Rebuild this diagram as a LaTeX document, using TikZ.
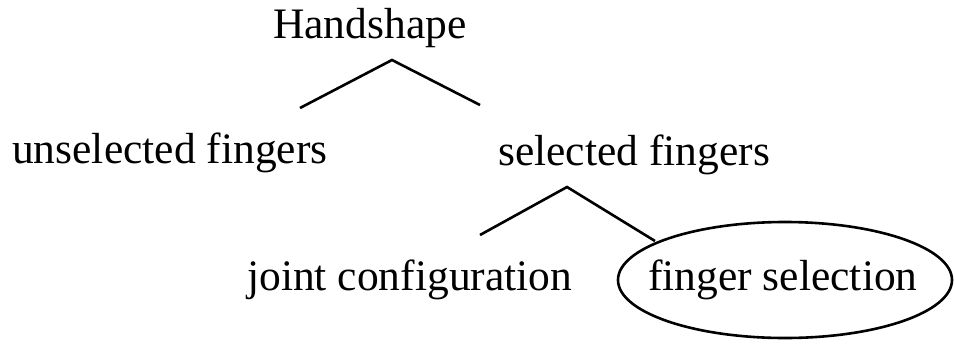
\documentclass[tikz,border=0pt]{standalone}
\usepackage{fontspec}
\setmainfont{Liberation Serif}
\begin{document}
\begin{tikzpicture}[x=1pt, y=-1pt,
        lbl/.style={inner sep=0pt, anchor=base west, font=\fontsize{43.5}{50}\selectfont},
        branch/.style={line width=2.6pt}]
    \useasboundingbox (0,0) rectangle (955,343);
    % top of the tree
    \node[lbl] (hand) at (273,38) {Handshape};
    \coordinate (top) at (392,60);
    \coordinate (topL) at (300,108);
    \coordinate (topR) at (480,105);
    \draw[branch] (topL) -- (top) -- (topR);
    % second level
    \node[lbl] (unsel) at (12,163) {unselected fingers};
    \node[lbl] (sel) at (498,165) {selected fingers};
    \coordinate (mid) at (567,187);
    \coordinate (midL) at (480,235);
    \coordinate (midR) at (655,241);
    \draw[branch] (midL) -- (mid) -- (midR);
    % third level
    \node[lbl] (joint) at (247,290) {joint configuration};
    \node[lbl] (fsel) at (648,290) {finger selection};
    \draw[branch] (785,280) ellipse [x radius=167, y radius=58];
\end{tikzpicture}
\end{document}
